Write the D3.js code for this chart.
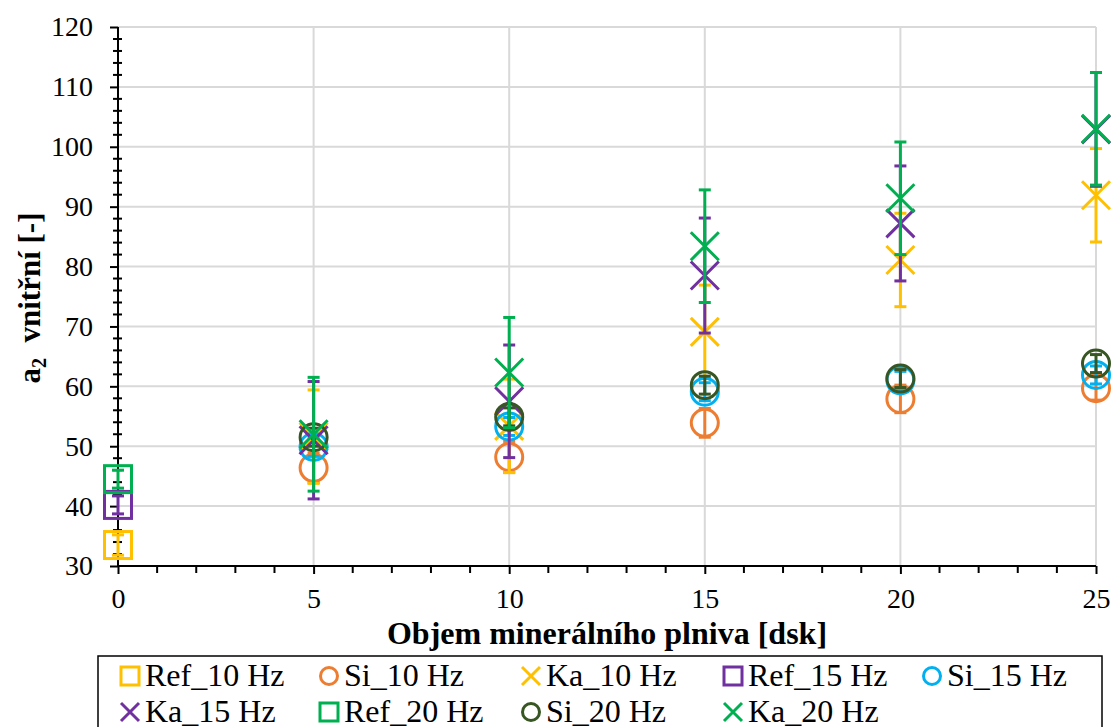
<!DOCTYPE html>
<html>
<head>
<meta charset="utf-8">
<script src="https://cdn.jsdelivr.net/npm/d3@7"></script>
<style>
  html, body { margin: 0; padding: 0; background: #fff; }
  svg { display: block; }
  svg text { font-family: "Liberation Serif", "Times New Roman", Times, "DejaVu Serif", serif; }
</style>
</head>
<body>
<svg id="chart" width="1112" height="727"></svg>
<script>
// Filler volume [dsk]
const xRef = [0];
const xFill = [5, 10, 15, 20, 25];

// Mean values and error half-widths per series
const ref10 = [33.5],  ref10Err = [1.7];
const ref15 = [40.2],  ref15Err = [1.5];
const ref20 = [44.5],  ref20Err = [1.5];
const si10 = [46.4, 48.2, 53.9, 57.9, 59.7], si10Err = [2.5, 2.6, 2.4, 2.3, 2.0];
const si15 = [49.9, 53.3, 59.1, 61.0, 61.9], si15Err = [1.6, 1.5, 1.5, 1.5, 1.5];
const si20 = [51.5, 54.9, 60.2, 61.3, 63.8], si20Err = [1.5, 1.5, 1.5, 1.5, 1.5];
const ka10 = [51.6, 53.4, 69.1, 81.1, 91.9], ka10Err = [7.8, 7.8, 7.8, 7.8, 7.8];
const ka15 = [51.0, 57.5, 78.5, 87.2, 102.9], ka15Err = [9.8, 9.4, 9.6, 9.6, 9.5];
const ka20 = [52.0, 62.3, 83.4, 91.4, 103.0], ka20Err = [9.5, 9.2, 9.4, 9.4, 9.4];

const xTicks = [0, 5, 10, 15, 20, 25];
const yTicks = [30, 40, 50, 60, 70, 80, 90, 100, 110, 120];

const yellow = "#FFC000", orange = "#ED7D31", purple = "#7030A0",
      blue = "#00B0F0", green = "#00B050", dark = "#375623";

const series = [
  { name: "Ref_10 Hz", xs: xRef,  ys: ref10, err: ref10Err, color: yellow, shape: "square" },
  { name: "Si_10 Hz",  xs: xFill, ys: si10,  err: si10Err,  color: orange, shape: "circle" },
  { name: "Ka_10 Hz",  xs: xFill, ys: ka10,  err: ka10Err,  color: yellow, shape: "cross" },
  { name: "Ref_15 Hz", xs: xRef,  ys: ref15, err: ref15Err, color: purple, shape: "square" },
  { name: "Si_15 Hz",  xs: xFill, ys: si15,  err: si15Err,  color: blue,   shape: "circle" },
  { name: "Ka_15 Hz",  xs: xFill, ys: ka15,  err: ka15Err,  color: purple, shape: "cross" },
  { name: "Ref_20 Hz", xs: xRef,  ys: ref20, err: ref20Err, color: green,  shape: "square" },
  { name: "Si_20 Hz",  xs: xFill, ys: si20,  err: si20Err,  color: dark,   shape: "circle" },
  { name: "Ka_20 Hz",  xs: xFill, ys: ka20,  err: ka20Err,  color: green,  shape: "cross" }
];

const FONT = "Liberation Serif, Times New Roman, Times, DejaVu Serif, serif";

const svg = d3.select("#chart");
const x = d3.scaleLinear().domain([0, 25]).range([118, 1096]);
const y = d3.scaleLinear().domain([30, 120]).range([566, 27]);

// Gridlines
const grid = svg.append("g").attr("stroke", "#d9d9d9").attr("stroke-width", 2);
grid.selectAll("line.h").data(yTicks.slice(1)).join("line")
  .attr("x1", x(0)).attr("x2", x(25)).attr("y1", d => y(d)).attr("y2", d => y(d));
grid.selectAll("line.v").data(xTicks.slice(1)).join("line")
  .attr("x1", d => x(d)).attr("x2", d => x(d)).attr("y1", y(30)).attr("y2", y(120));

// Axes
const yMinor = d3.range(30, 120.01, 2).filter(v => v % 10 !== 0);
const xMinor = d3.range(0, 25.01, 1).filter(v => v % 5 !== 0);

const yAxis = svg.append("g").attr("transform", `translate(${x(0)},0)`)
  .call(d3.axisLeft(y).tickValues(yTicks).tickSize(8).tickPadding(17));
yAxis.attr("font-family", FONT);
yAxis.select(".domain").attr("stroke-width", 2).attr("d", `M0,${y(30)}V${y(120)}`);
yAxis.selectAll(".tick line").attr("stroke-width", 2);
yAxis.selectAll(".tick text").attr("font-size", 28).attr("fill", "#000");
svg.append("g").selectAll("line").data(yMinor).join("line")
  .attr("x1", x(0) - 5).attr("x2", x(0) + 4)
  .attr("y1", d => y(d)).attr("y2", d => y(d))
  .attr("stroke", "#000").attr("stroke-width", 2);

const xAxis = svg.append("g").attr("transform", `translate(0,${y(30)})`)
  .call(d3.axisBottom(x).tickValues(xTicks).tickSize(8).tickPadding(14));
xAxis.attr("font-family", FONT);
xAxis.select(".domain").attr("stroke-width", 2).attr("d", `M${x(0)},0H${x(25)}`);
xAxis.selectAll(".tick line").attr("stroke-width", 2);
xAxis.selectAll(".tick text").attr("font-size", 28).attr("fill", "#000");
svg.append("g").selectAll("line").data(xMinor).join("line")
  .attr("x1", d => x(d)).attr("x2", d => x(d))
  .attr("y1", y(30)).attr("y2", y(30) + 7)
  .attr("stroke", "#000").attr("stroke-width", 2);

// Marker drawing helper
function marker(g, shape, color, size, sw) {
  const h = size / 2;
  if (shape === "square") {
    g.append("rect").attr("x", -h).attr("y", -h).attr("width", size).attr("height", size)
      .attr("fill", "none").attr("stroke", color).attr("stroke-width", sw);
  } else if (shape === "circle") {
    g.append("circle").attr("r", h).attr("fill", "none").attr("stroke", color).attr("stroke-width", sw);
  } else {
    g.append("path").attr("d", `M${-h},${-h}L${h},${h}M${-h},${h}L${h},${-h}`)
      .attr("fill", "none").attr("stroke", color).attr("stroke-width", sw);
  }
}

// Series: error bars and markers
const plot = svg.append("g");
series.forEach(s => {
  const g = plot.append("g");
  s.ys.forEach((v, i) => {
    const cx = x(s.xs[i]);
    const top = y(v + s.err[i]), bot = y(v - s.err[i]);
    const eb = g.append("g").attr("stroke", s.color).attr("stroke-width", 3);
    eb.append("line").attr("x1", cx).attr("x2", cx).attr("y1", top).attr("y2", bot);
    eb.append("line").attr("x1", cx - 6).attr("x2", cx + 6).attr("y1", top).attr("y2", top);
    eb.append("line").attr("x1", cx - 6).attr("x2", cx + 6).attr("y1", bot).attr("y2", bot);
    const size = s.shape === "cross" ? 28 : 27;
    marker(g.append("g").attr("transform", `translate(${cx},${y(v)})`), s.shape, s.color, size, 3);
  });
});

// Axis titles
svg.append("text")
  .attr("x", 607).attr("y", 644)
  .attr("font-family", FONT)
  .attr("text-anchor", "middle").attr("font-weight", "bold").attr("font-size", 32)
  .text("Objem minerálního plniva [dsk]");

const yt = svg.append("text")
  .attr("transform", `translate(40,298) rotate(-90)`)
  .attr("font-family", FONT)
  .attr("text-anchor", "middle").attr("font-weight", "bold").attr("font-size", 31);
yt.append("tspan").text("a");
yt.append("tspan").attr("font-size", 20).attr("dy", 6).text("2");
yt.append("tspan").attr("dy", -6).text("\u00a0 vnitřní [-]");

// Legend
const legend = svg.append("g");
legend.append("rect").attr("x", 98).attr("y", 656).attr("width", 1004).attr("height", 90)
  .attr("fill", "#fff").attr("stroke", "#000").attr("stroke-width", 1.5);
const colX = [130, 329, 531, 733, 932];
const rowY = [676, 712];
series.forEach((s, i) => {
  const cx = colX[i % 5], cy = rowY[Math.floor(i / 5)];
  const item = legend.append("g").attr("transform", `translate(${cx},${cy})`);
  marker(item, s.shape, s.color, s.shape === "circle" ? 17 : 18, 3);
  item.append("text").attr("x", 15).attr("y", 10).attr("font-family", FONT)
    .attr("font-size", 32).text(s.name);
});
</script>
</body>
</html>
